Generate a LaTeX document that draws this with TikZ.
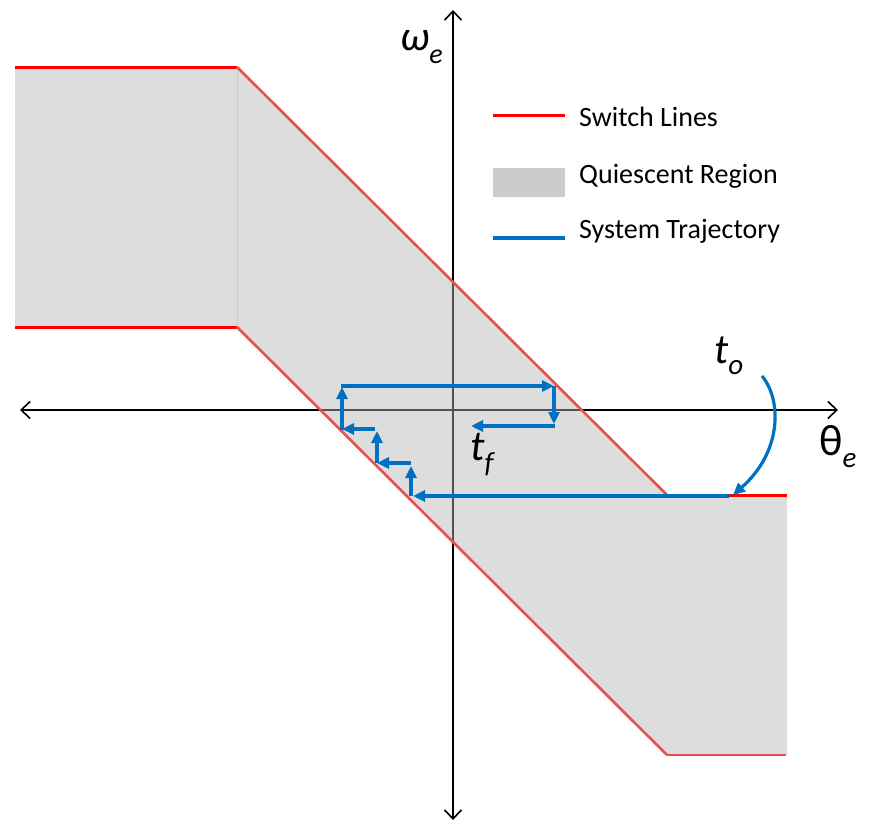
\documentclass[tikz,border=0pt]{standalone}
\usepackage{fontspec}
\setmainfont{Carlito}
\usetikzlibrary{arrows.meta}
\definecolor{regionfill}{RGB}{180,180,180}
\definecolor{legendgray}{RGB}{204,204,204}
\definecolor{seamgray}{RGB}{200,200,200}
\definecolor{switchred}{RGB}{255,0,0}
\definecolor{softred}{RGB}{232,80,80}
\definecolor{trajblue}{RGB}{0,112,192}
\tikzset{
  axisline/.style={line width=1.6pt, {Straight Barb[length=9pt,width=17pt]}-{Straight Barb[length=9pt,width=17pt]}},
  region/.style={fill=regionfill, fill opacity=0.45},
  switch/.style={draw=switchred, line width=3pt},
  switchsoft/.style={draw=softred, line width=2.6pt},
  traj/.style={draw=trajblue, line width=3.2pt, -{Triangle[length=12pt,width=11pt]}},
  trajline/.style={draw=trajblue, line width=3.4pt},
  lgd/.style={anchor=base west, font=\fontsize{28}{28}\selectfont, inner sep=0pt},
  lbl/.style={anchor=base west, inner sep=0pt},
}
\begin{document}
\begin{tikzpicture}[x=1pt,y=-1pt]
\useasboundingbox (0,0) rectangle (875,825);

% axes
\coordinate (xl) at (20,410);
\coordinate (xr) at (838,410);
\coordinate (yt) at (453,10);
\coordinate (yb) at (453,820);
\draw[axisline] (xl) -- (xr);
\draw[axisline] (yb) -- (yt);

% quiescent region
\coordinate (p1) at (15,67);
\coordinate (p2) at (237,67);
\coordinate (p3) at (667,495);
\coordinate (p4) at (787,495);
\coordinate (p5) at (787,755);
\coordinate (p6) at (667,755);
\coordinate (p7) at (237,327);
\coordinate (p8) at (15,327);
\fill[region] (p1) -- (p2) -- (p3) -- (p4) -- (p5) -- (p6) -- (p7) -- (p8) -- cycle;
\draw[seamgray, line width=1pt] (p2) -- (p7);

% switch lines
\draw[switch] (p1) -- (p2);
\draw[switch] (p8) -- (p7);
\draw[switchsoft] (p2) -- (p3);
\draw[switchsoft] (p7) -- (p6);
\draw[switchsoft] (p6) -- ([xshift=-1pt]p5);
\draw[switch] (p3) -- (p4);

% system trajectory
\coordinate (t0) at (729,496);
\coordinate (t1) at (413,496);
\coordinate (u1a) at (411,496);
\coordinate (u1b) at (411,466);
\coordinate (h1a) at (411,463);
\coordinate (h1b) at (377,463);
\coordinate (u2a) at (377,463);
\coordinate (u2b) at (377,431);
\coordinate (h2a) at (375,429);
\coordinate (h2b) at (342,429);
\coordinate (u3a) at (342,430);
\coordinate (u3b) at (342,387);
\coordinate (h3a) at (341,386);
\coordinate (h3b) at (554,386);
\coordinate (d1a) at (554,386);
\coordinate (d1b) at (554,424);
\coordinate (h4a) at (555,426);
\coordinate (h4b) at (471,426);

\draw[traj] (t0) -- (t1);
\draw[traj] (u1a) -- (u1b);
\draw[traj] (h1a) -- (h1b);
\draw[traj] (u2a) -- (u2b);
\draw[traj] (h2a) -- (h2b);
\draw[traj] (u3a) -- (u3b);
\draw[traj] (h3a) -- (h3b);
\draw[traj] (d1a) -- (d1b);
\draw[traj] (h4a) -- (h4b);

% curved arrow from t_o
\coordinate (c1) at (762,376);
\coordinate (c2) at (733,495);
\draw[traj] (c1) .. controls (782,400) and (782,452) .. (c2);

% labels
\node[lbl] (omega) at (400,50) {\fontsize{42}{42}\selectfont\itshape ω\raisebox{-0.32em}{\fontsize{28}{28}\selectfont e}};
\node[lbl] (theta) at (819,455) {\fontsize{44}{44}\selectfont θ\raisebox{-0.28em}{\fontsize{29}{29}\selectfont\itshape e}};
\node[lbl] (to) at (714,363) {\fontsize{42}{42}\selectfont\itshape t\raisebox{-0.28em}{\fontsize{29}{29}\selectfont o}};
\node[lbl] (tf) at (470,460) {\fontsize{43}{43}\selectfont\itshape t\raisebox{-0.3em}{\fontsize{29}{29}\selectfont f}};

% legend
\coordinate (la1) at (493,115);
\coordinate (la2) at (565,115);
\draw[switch] (la1) -- (la2);
\node[lgd] (lsw) at (579,126) {Switch Lines};
\node[fill=legendgray, minimum width=72pt, minimum height=29pt, inner sep=0pt, anchor=north west] (lq) at (493,168) {};
\node[lgd] (lqr) at (579,183) {Quiescent Region};
\coordinate (lb1) at (493,238);
\coordinate (lb2) at (565,238);
\draw[trajline] (lb1) -- (lb2);
\node[lgd] (lst) at (579,238) {System Trajectory};
\end{tikzpicture}
\end{document}
